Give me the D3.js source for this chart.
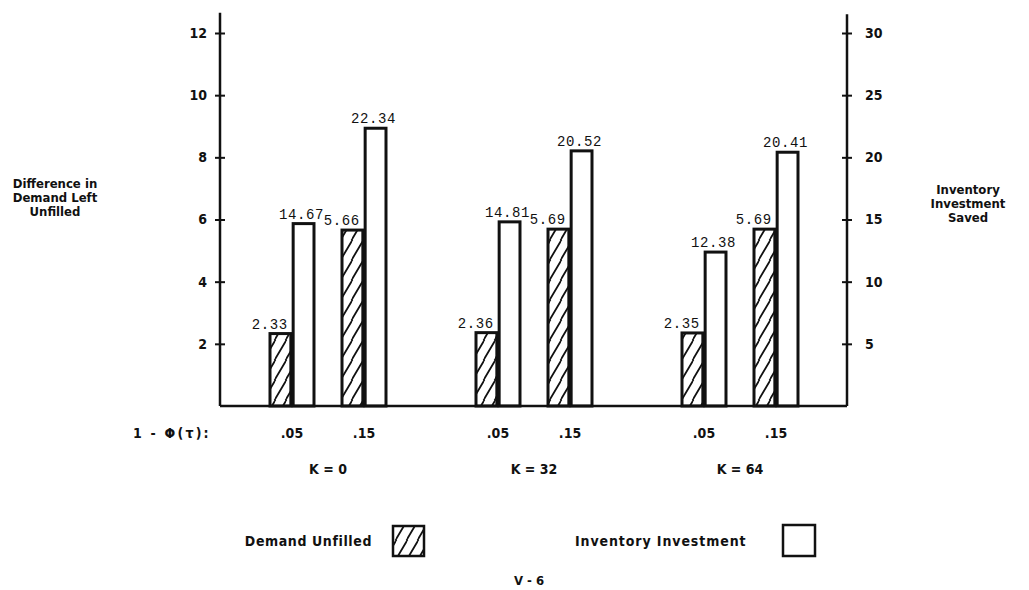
<!DOCTYPE html>
<html>
<head>
<meta charset="utf-8">
<script src="https://cdn.jsdelivr.net/npm/d3@7"></script>
<style>
  html, body { margin: 0; padding: 0; background: #fff; }
  svg { display: block; }
  .lbl { font-family: "DejaVu Sans Condensed", "Liberation Sans Narrow", "DejaVu Sans", sans-serif; font-weight: bold; fill: #111; }
  .val { font-family: "Liberation Mono", "DejaVu Sans Mono", monospace; fill: #111; }
</style>
</head>
<body>
<svg id="chart" width="1029" height="590"></svg>
<script>
// ---- data ----
const groups = ["K = 0", "K = 32", "K = 64"];
const levels = [".05", ".15"];
const seriesNames = ["Demand Unfilled", "Inventory Investment"];
const demandUnfilled = [2.33, 5.66, 2.36, 5.69, 2.35, 5.69];
const inventoryInvestment = [14.67, 22.34, 14.81, 20.52, 12.38, 20.41];
const demandLabels = ["2.33", "5.66", "2.36", "5.69", "2.35", "5.69"];
const inventoryLabels = ["14.67", "22.34", "14.81", "20.52", "12.38", "20.41"];
const leftTicks = [2, 4, 6, 8, 10, 12];
const rightTicks = [5, 10, 15, 20, 25, 30];
const leftTitle = ["Difference in", "Demand Left", "Unfilled"];
const rightTitle = ["Inventory", "Investment", "Saved"];
const levelTitle = "1 - \u03A6(\u03C4):";

// ---- scales ----
const svg = d3.select("#chart");
const xLeft = 220, xRight = 847;
const yL = d3.scaleLinear().domain([0, 12]).range([406, 33]);
const yR = d3.scaleLinear().domain([0, 30]).range([406, 33]);
const xGroup = d3.scaleBand().domain(groups).range([225, 843]);
const xLevel = d3.scaleBand().domain(levels).range([0, xGroup.bandwidth()])
  .paddingInner(0.389).paddingOuter(0.625);
const xSeries = d3.scaleBand().domain(seriesNames).range([0, xLevel.bandwidth()]).paddingInner(0.1);

// hatch pattern
const defs = svg.append("defs");
const pat = defs.append("pattern").attr("id", "hatch").attr("patternUnits", "userSpaceOnUse")
  .attr("width", 11).attr("height", 20);
pat.append("rect").attr("width", 11).attr("height", 20).attr("fill", "#fff");
pat.append("path").attr("d", "M-1,21 L12,-1 M-6,10.5 L0.5,-0.5 M10.5,20.5 L17,9.5")
  .attr("stroke", "#111").attr("stroke-width", 1.8);

// build records
const records = [];
groups.forEach((g, gi) => {
  levels.forEach((l, li) => {
    const i = gi * levels.length + li;
    records.push({ g, l, s: seriesNames[0], v: demandUnfilled[i], t: demandLabels[i], scale: yL });
    records.push({ g, l, s: seriesNames[1], v: inventoryInvestment[i], t: inventoryLabels[i], scale: yR });
  });
});
const bx = d => xGroup(d.g) + xLevel(d.l) + xSeries(d.s);

// bars
svg.append("g").selectAll("rect").data(records).join("rect")
  .attr("x", bx)
  .attr("y", d => d.scale(d.v))
  .attr("width", xSeries.bandwidth())
  .attr("height", d => d.scale(0) - d.scale(d.v))
  .attr("fill", d => d.s === seriesNames[0] ? "url(#hatch)" : "#fff")
  .attr("stroke", "#111").attr("stroke-width", 3);

// value labels
svg.append("g").selectAll("text").data(records).join("text")
  .attr("class", "val")
  .attr("font-size", 14)
  .attr("letter-spacing", 0.6)
  .attr("x", d => d.s === seriesNames[0] ? bx(d) + xSeries.bandwidth() - 3 : bx(d) + xSeries.bandwidth() / 2 - 2)
  .attr("y", d => d.scale(d.v) - 5)
  .attr("text-anchor", d => d.s === seriesNames[0] ? "end" : "middle")
  .text(d => d.t);

// baseline
svg.append("line").attr("x1", xLeft).attr("x2", xRight).attr("y1", yL(0)).attr("y2", yL(0))
  .attr("stroke", "#111").attr("stroke-width", 2.5);

// left axis
const gL = svg.append("g").attr("transform", `translate(${xLeft},0)`)
  .call(d3.axisLeft(yL).tickValues(leftTicks).tickSize(5).tickPadding(8).tickSizeOuter(0));
gL.select(".domain").remove();
gL.selectAll(".tick line").attr("x1", 5).attr("stroke", "#111").attr("stroke-width", 2);
gL.selectAll(".tick text").attr("class", "lbl").attr("font-size", 14).style("font-family", null);
gL.append("line").attr("x1", 0).attr("x2", 0).attr("y1", yL(0)).attr("y2", yL(12.65))
  .attr("stroke", "#111").attr("stroke-width", 2.5);

// right axis
const gR = svg.append("g").attr("transform", `translate(${xRight},0)`)
  .call(d3.axisRight(yR).tickValues(rightTicks).tickSize(5).tickPadding(13).tickSizeOuter(0));
gR.select(".domain").remove();
gR.selectAll(".tick line").attr("x1", -5).attr("stroke", "#111").attr("stroke-width", 2);
gR.selectAll(".tick text").attr("class", "lbl").attr("font-size", 14).style("font-family", null);
gR.append("line").attr("x1", 0).attr("x2", 0).attr("y1", yR(0)).attr("y2", yR(31.5))
  .attr("stroke", "#111").attr("stroke-width", 2.5);

// axis titles
svg.append("text").attr("class", "lbl").attr("font-size", 13).attr("text-anchor", "middle")
  .selectAll("tspan").data(leftTitle).join("tspan")
  .attr("x", 55).attr("y", (d, i) => 188 + i * 14).text(d => d);
svg.append("text").attr("class", "lbl").attr("font-size", 13).attr("text-anchor", "middle")
  .selectAll("tspan").data(rightTitle).join("tspan")
  .attr("x", 968).attr("y", (d, i) => 194 + i * 14).text(d => d);

// category labels
svg.append("text").attr("class", "lbl").attr("font-size", 14).attr("letter-spacing", 2.2)
  .attr("x", 133).attr("y", 438).text(levelTitle);
const lvl = [];
groups.forEach(g => levels.forEach(l => lvl.push({ g, l })));
svg.append("g").selectAll("text").data(lvl).join("text")
  .attr("class", "lbl").attr("font-size", 14).attr("text-anchor", "middle")
  .attr("x", d => xGroup(d.g) + xLevel(d.l) + xLevel.bandwidth() / 2)
  .attr("y", 438).text(d => d.l);
svg.append("g").selectAll("text").data(groups).join("text")
  .attr("class", "lbl").attr("font-size", 14).attr("text-anchor", "middle")
  .attr("x", d => xGroup(d) + xGroup.bandwidth() / 2)
  .attr("y", 474).text(d => d);

// legend
svg.append("text").attr("class", "lbl").attr("font-size", 14).attr("letter-spacing", 0.6)
  .attr("text-anchor", "end")
  .attr("x", 372).attr("y", 546).text(seriesNames[0]);
svg.append("rect").attr("x", 393).attr("y", 526).attr("width", 31).attr("height", 30)
  .attr("fill", "url(#hatch)").attr("stroke", "#111").attr("stroke-width", 2.5);
svg.append("text").attr("class", "lbl").attr("font-size", 14).attr("letter-spacing", 0.9)
  .attr("text-anchor", "start")
  .attr("x", 575).attr("y", 546).text(seriesNames[1]);
svg.append("rect").attr("x", 783).attr("y", 525).attr("width", 32).attr("height", 31)
  .attr("fill", "#fff").attr("stroke", "#111").attr("stroke-width", 2.5);

// page number
svg.append("text").attr("class", "lbl").attr("font-size", 13).attr("text-anchor", "middle")
  .attr("x", 529).attr("y", 585).text("V - 6");
</script>
</body>
</html>
